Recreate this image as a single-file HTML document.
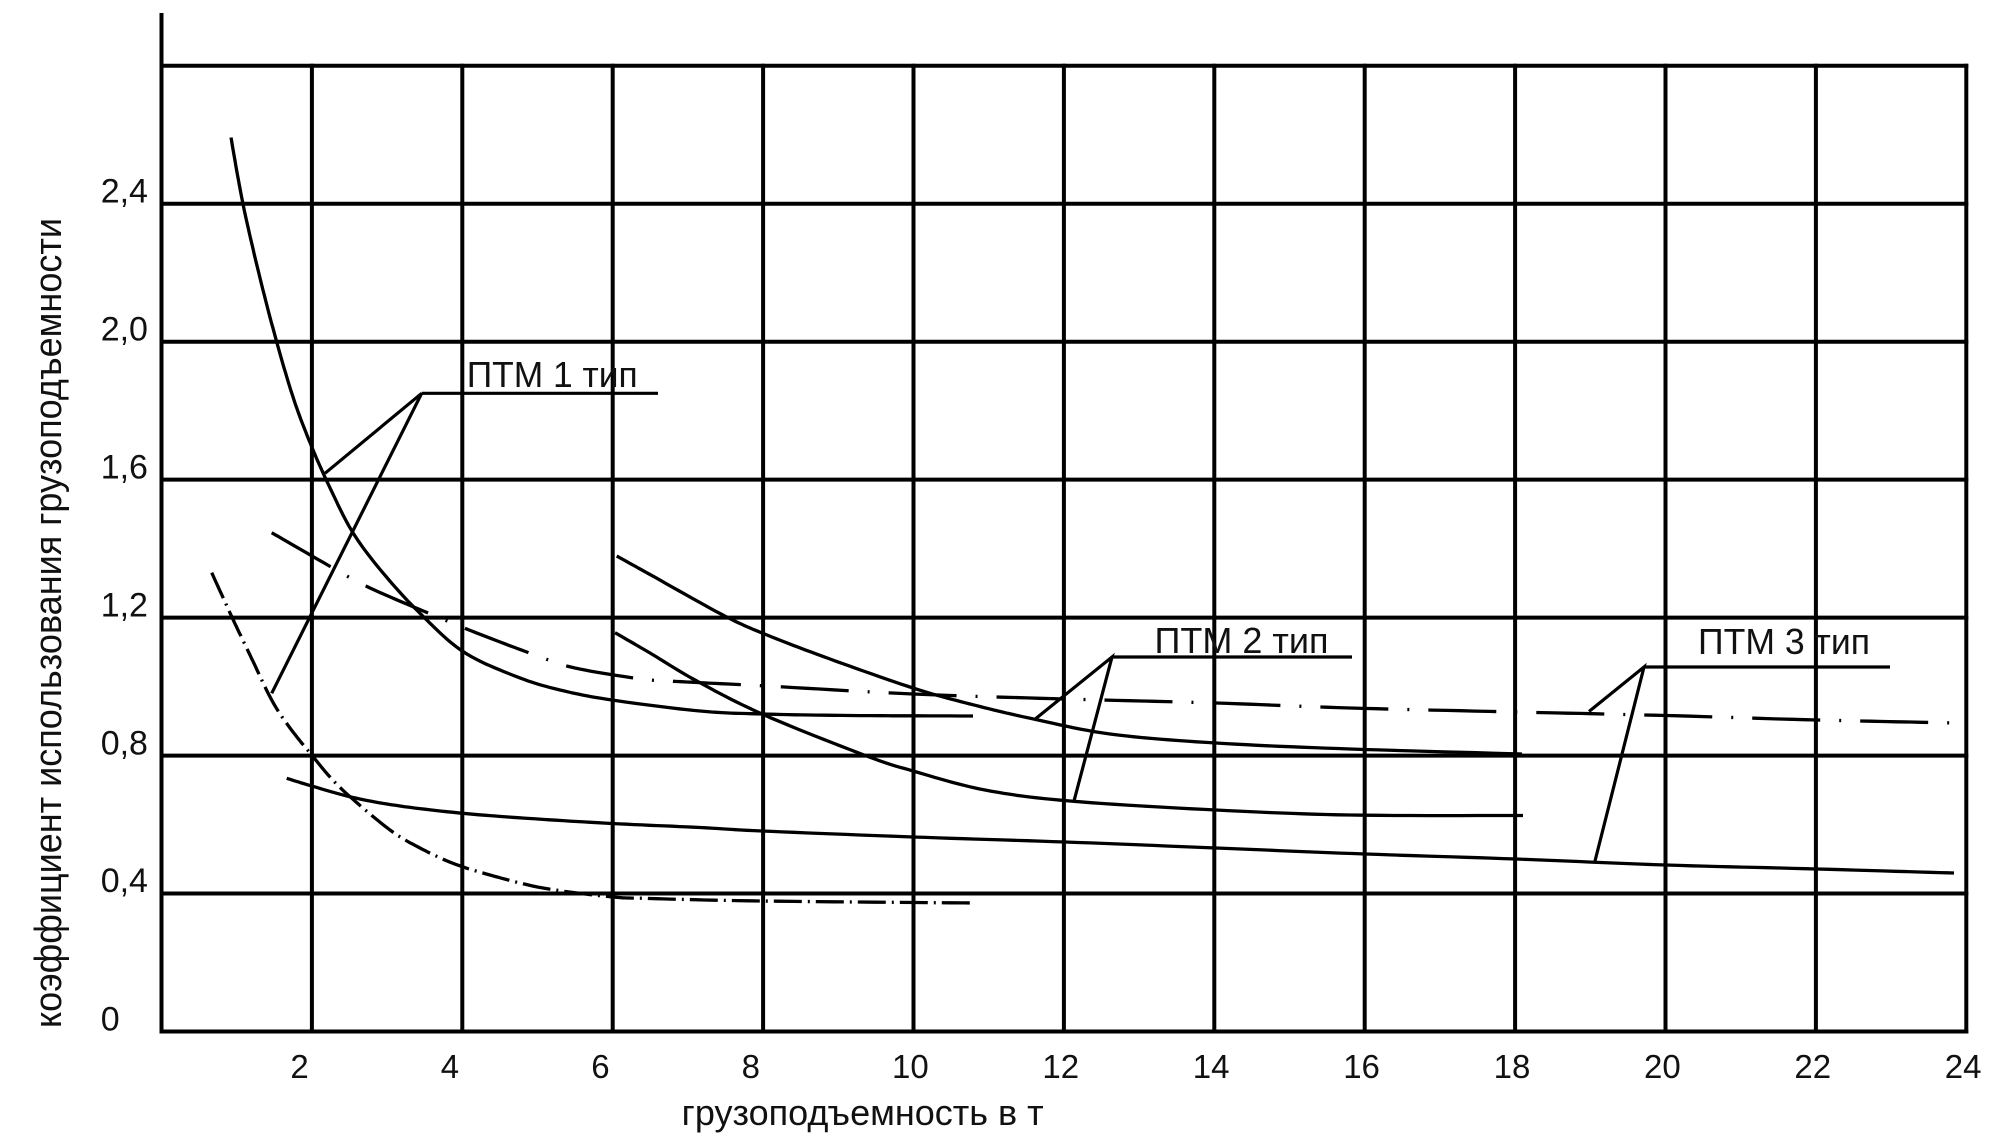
<!DOCTYPE html>
<html><head><meta charset="utf-8"><style>
html,body{margin:0;padding:0;background:#fff;}
svg{display:block;}
text{font-family:"Liberation Sans","DejaVu Sans",sans-serif;fill:#111;}
</style></head><body>
<svg width="2010" height="1140" viewBox="0 0 2010 1140" xmlns="http://www.w3.org/2000/svg">
<rect width="2010" height="1140" fill="#fff"/>
<g stroke="#000" stroke-width="4" stroke-linecap="square" fill="none">
<line x1="161.5" y1="15" x2="161.5" y2="1031.5"/>
<line x1="161.5" y1="1031.5" x2="1966.3" y2="1031.5"/>
<line x1="161.5" y1="893.5" x2="1966.3" y2="893.5"/>
<line x1="161.5" y1="755.6" x2="1966.3" y2="755.6"/>
<line x1="161.5" y1="617.6" x2="1966.3" y2="617.6"/>
<line x1="161.5" y1="479.6" x2="1966.3" y2="479.6"/>
<line x1="161.5" y1="341.7" x2="1966.3" y2="341.7"/>
<line x1="161.5" y1="203.7" x2="1966.3" y2="203.7"/>
<line x1="161.5" y1="65.7" x2="1966.3" y2="65.7"/>
<line x1="311.9" y1="65.7" x2="311.9" y2="1031.5"/>
<line x1="462.3" y1="65.7" x2="462.3" y2="1031.5"/>
<line x1="612.7" y1="65.7" x2="612.7" y2="1031.5"/>
<line x1="763.1" y1="65.7" x2="763.1" y2="1031.5"/>
<line x1="913.5" y1="65.7" x2="913.5" y2="1031.5"/>
<line x1="1063.9" y1="65.7" x2="1063.9" y2="1031.5"/>
<line x1="1214.3" y1="65.7" x2="1214.3" y2="1031.5"/>
<line x1="1364.7" y1="65.7" x2="1364.7" y2="1031.5"/>
<line x1="1515.1" y1="65.7" x2="1515.1" y2="1031.5"/>
<line x1="1665.5" y1="65.7" x2="1665.5" y2="1031.5"/>
<line x1="1815.9" y1="65.7" x2="1815.9" y2="1031.5"/>
<line x1="1966.3" y1="65.7" x2="1966.3" y2="1031.5"/>
</g>
<g stroke="#000" stroke-width="3.3" fill="none" stroke-linejoin="round" stroke-linecap="butt">
<polyline class="s" points="231,137.5 243,204 260,278 277,343 294,400 311.7,446.7 331,490 353.3,533.3 383.3,573.3 420,613.3 463.3,651.7 516.7,676.7 560,690 611.7,700 700,711 762,714 850,715.5 973,716"/>
<polyline class="s" points="616.7,556 650,574.5 721,614 762,633 830,659 913,688 970,704 1029,718 1110,734 1216,743 1350,749 1522,754"/>
<polyline class="s" points="615,632.7 650,653 695,680 762,714 864,755 913,771 985,790 1070,801 1216,810 1350,815 1523,815.5"/>
<polyline class="s" points="286.7,778.3 311.7,786 353,797.5 400,806 463,813.3 530,818.5 612,823.5 700,827.5 762,831 913,837 1065,842 1216,848 1365,854 1516,859 1666,865 1817,869 1954,873"/>
<polyline class="s" stroke-dasharray="28 6 2 6" points="211.7,572.7 233.3,620 250,655 271.7,700 290,728 311.7,755 330,777 350,796.7 390,830 420,848 453,863.3 490,875 543,888 610,896.7 650,898.5 762,901 974,903"/>
<polyline class="s" stroke-dasharray="68 19 2 19" points="271.7,532.7 333,568 370,588 433,615 471.7,631 535,655 575,668 641.7,679 681.7,681.7 761.6,685.7 913,694 1065,699 1216,703 1350,708 1516,712 1666,715.5 1817,720 1958,723"/>
</g>
<g stroke="#000" stroke-width="3.2" fill="none" stroke-linejoin="miter">
<polyline points="325,473.3 421.7,393.3 271.7,693.3"/>
<line x1="421.7" y1="393.3" x2="658" y2="393.3"/>
<polyline points="1034,720 1112,657 1074,801"/>
<line x1="1112" y1="657" x2="1352" y2="657"/>
<polyline points="1589,711.5 1644,667 1595,861"/>
<line x1="1644" y1="667" x2="1890" y2="667"/>
</g>
<g font-size="36">
<text x="466.7" y="387" textLength="171" lengthAdjust="spacingAndGlyphs">ПТМ 1 тип</text>
<text x="1154.5" y="653" textLength="174" lengthAdjust="spacingAndGlyphs">ПТМ 2 тип</text>
<text x="1698" y="654" textLength="172" lengthAdjust="spacingAndGlyphs">ПТМ 3 тип</text>
</g>
<g font-size="34">
<text x="100.7" y="1030.5">0</text>
<text x="100.7" y="892">0,4</text>
<text x="100.7" y="754.5">0,8</text>
<text x="100.7" y="616.5">1,2</text>
<text x="100.7" y="478.5">1,6</text>
<text x="100.7" y="340.5">2,0</text>
<text x="100.7" y="202.5">2,4</text>
</g>
<g font-size="33">
<text x="290.4" y="1078">2</text>
<text x="440.8" y="1078">4</text>
<text x="591.2" y="1078">6</text>
<text x="741.6" y="1078">8</text>
<text x="892" y="1078">10</text>
<text x="1042.4" y="1078">12</text>
<text x="1192.8" y="1078">14</text>
<text x="1343.2" y="1078">16</text>
<text x="1493.6" y="1078">18</text>
<text x="1644" y="1078">20</text>
<text x="1794.4" y="1078">22</text>
<text x="1944.8" y="1078">24</text>
</g>
<text x="681.7" y="1125" font-size="36" textLength="362" lengthAdjust="spacingAndGlyphs">грузоподъемность в т</text>
<text transform="translate(61,1028) rotate(-90)" font-size="38" textLength="810" lengthAdjust="spacingAndGlyphs">коэффициент использования грузоподъемности</text>
</svg>
<script>
(function(){
var list=document.querySelectorAll('polyline.s');
for(var n=0;n<list.length;n++){
 var pl=list[n];
 var raw=pl.getAttribute('points').trim().split(/\s+/);
 var pts=[];
 for(var j=0;j<raw.length;j++){var a=raw[j].split(',');pts.push([+a[0],+a[1]]);}
 var out=[];
 for(var i=0;i<pts.length-1;i++){
  var p0=pts[i-1]||pts[i],p1=pts[i],p2=pts[i+1],p3=pts[i+2]||pts[i+1];
  for(var k=0;k<12;k++){
   var t=k/12,t2=t*t,t3=t2*t,c=[0,0];
   for(var d=0;d<2;d++){
    c[d]=0.5*((2*p1[d])+(-p0[d]+p2[d])*t+(2*p0[d]-5*p1[d]+4*p2[d]-p3[d])*t2+(-p0[d]+3*p1[d]-3*p2[d]+p3[d])*t3);
   }
   out.push(c[0].toFixed(1)+','+c[1].toFixed(1));
  }
 }
 var L=pts[pts.length-1];
 out.push(L[0]+','+L[1]);
 pl.setAttribute('points',out.join(' '));
}
})();
</script>
</body></html>
